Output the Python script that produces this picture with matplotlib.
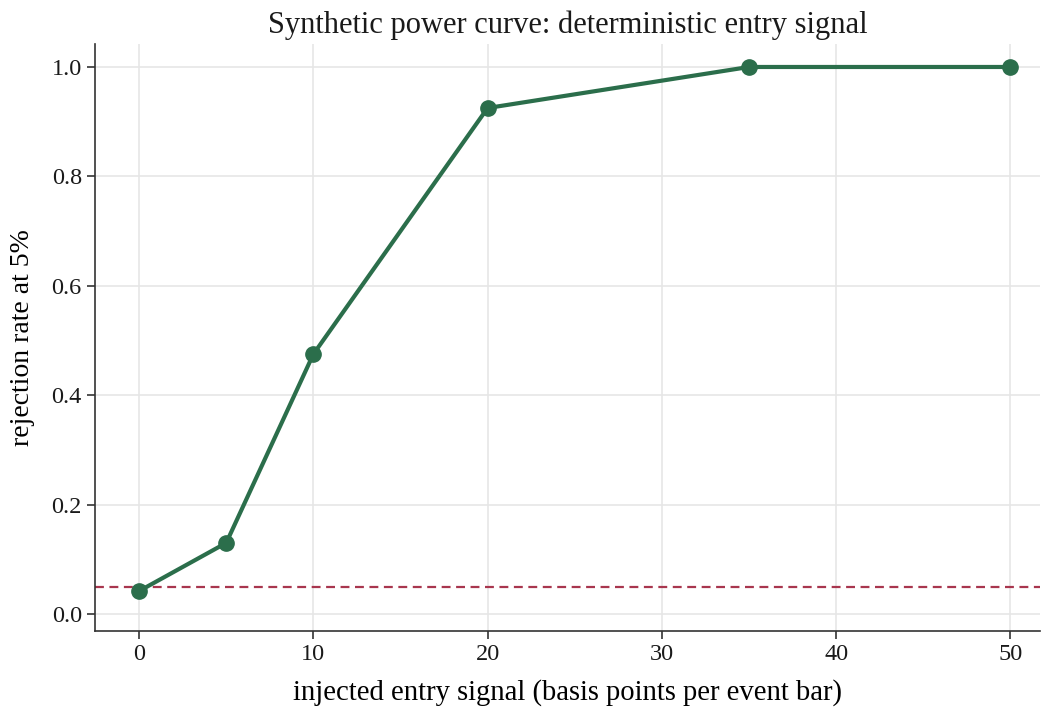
import matplotlib
matplotlib.use("Agg")
import matplotlib.pyplot as plt

# injected signal (bp per event bar) vs rejection rate
signal_bp = [0, 5, 10, 20, 35, 50]
rejection_rate = [0.042, 0.13, 0.475, 0.925, 1.0, 1.0]
alpha_level = 0.05

plt.rcParams['font.family'] = ['Liberation Serif', 'DejaVu Serif']
plt.rcParams['text.color'] = '#1a1a1a'

fig = plt.figure(figsize=(10.44, 7.07), dpi=100)
ax = fig.add_axes([95 / 1044, 1 - 631 / 707, (1040 - 95) / 1044, (631 - 44) / 707])

ax.plot(signal_bp, rejection_rate, color='#2b6e4b', lw=3, marker='o', markersize=11, zorder=3)
ax.axhline(alpha_level, color='#a8364e', lw=1.6, ls='--', dashes=(4, 2.5), zorder=2)

ax.set_xlim(-2.53, 51.7)
ax.set_ylim(-0.031, 1.042)
ax.set_xticks([0, 10, 20, 30, 40, 50])
ax.set_yticks([0.0, 0.2, 0.4, 0.6, 0.8, 1.0])

ax.grid(True, color='#e6e6e6', lw=1.2)
ax.set_axisbelow(True)
ax.spines['top'].set_visible(False)
ax.spines['right'].set_visible(False)
for s in ('left', 'bottom'):
    ax.spines[s].set_color('#333333')
    ax.spines[s].set_linewidth(1.2)
ax.tick_params(labelsize=17.5, length=6, width=1.2, color='#333333', labelcolor='#1a1a1a')

ax.set_title('Synthetic power curve: deterministic entry signal', fontsize=22, pad=8)
ax.set_xlabel('injected entry signal (basis points per event bar)', fontsize=20.6, labelpad=10)
ax.set_ylabel('rejection rate at 5%', fontsize=20, labelpad=12)

fig.savefig('out.png', dpi=100)
